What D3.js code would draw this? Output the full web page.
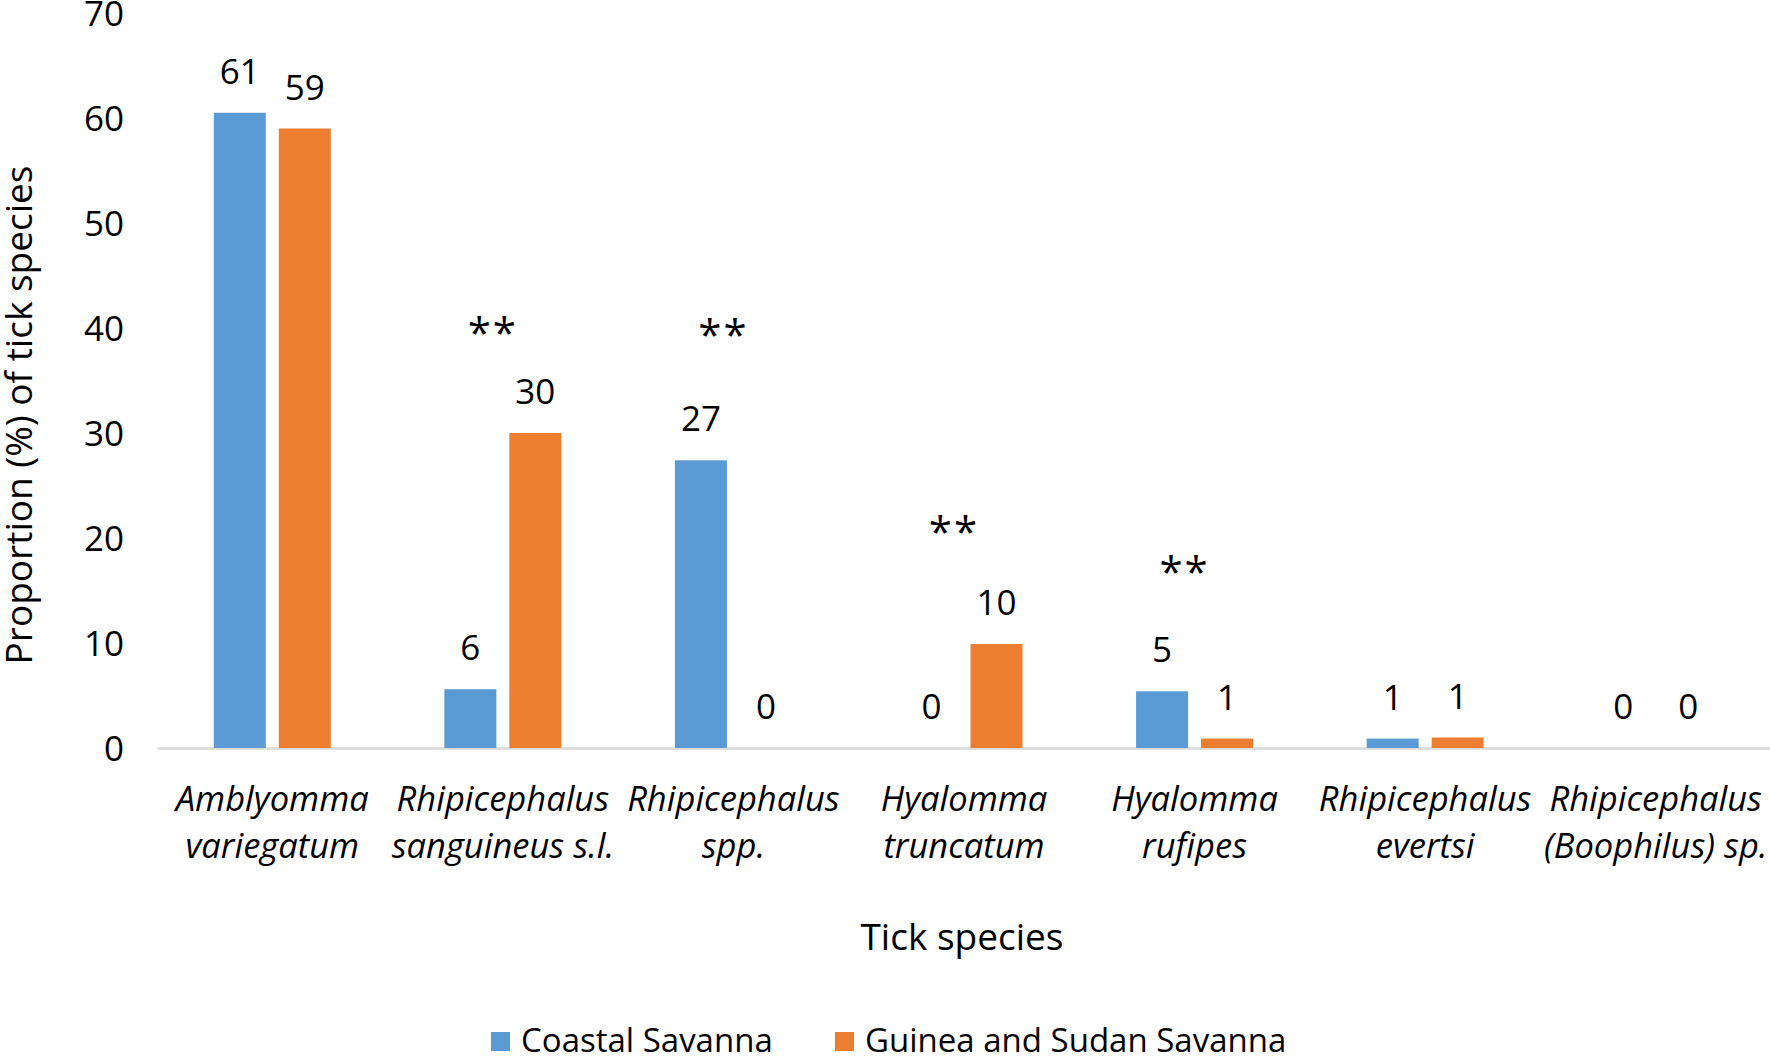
<!DOCTYPE html>
<html><head><meta charset="utf-8">
<script src="https://cdn.jsdelivr.net/npm/d3@7"></script>
<style>
html,body{margin:0;padding:0;background:#fff;}
text{font-family:"Open Sans","Noto Sans",sans-serif;fill:#000;}
</style></head>
<body>
<svg id="chart" width="1770" height="1058"></svg>
<script>
// ---- data ----
const categoryLine1 = ["Amblyomma","Rhipicephalus","Rhipicephalus","Hyalomma","Hyalomma","Rhipicephalus","Rhipicephalus"];
const categoryLine2 = ["variegatum","sanguineus s.l.","spp.","truncatum","rufipes","evertsi","(Boophilus) sp."];
const seriesNames = ["Coastal Savanna","Guinea and Sudan Savanna"];
const coastal = [60.5, 5.6, 27.4, 0, 5.4, 0.9, 0];
const guineaSudan = [59.0, 30.0, 0, 9.9, 0.9, 1.0, 0];
const significance = ["", "**", "**", "**", "**", "", ""];
const significanceLevel = [null, 40.2, 40.0, 21.2, 17.4, null, null];
const yTicks = [0,10,20,30,40,50,60,70];
const colors = ["#5b9bd5","#ed7d31"];

// ---- layout ----
const svg = d3.select("#chart");
const plotLeft = 157, plotRight = 1771, yBottom = 748, yTop = 13;
const fsNum = 35, fsCat = 34.5, fsTitle = 37, fsLeg = 33;

const x = d3.scaleBand().domain(d3.range(categoryLine1.length)).range([plotLeft, plotRight]).paddingInner(0).paddingOuter(0);
const y = d3.scaleLinear().domain([0,70]).range([yBottom, yTop]);

const barW = 52, barGap = 13;
const sub = d3.scaleOrdinal().domain([0,1]).range([-(barGap/2 + barW), barGap/2]);

// y axis labels (no line)
const yAxis = d3.axisLeft(y).tickValues(yTicks).tickSize(0).tickPadding(0).tickFormat(d3.format("d"));
const yg = svg.append("g").attr("transform","translate(124,0)").call(yAxis);
yg.select(".domain").remove();
yg.selectAll("text").attr("font-size",fsNum).attr("font-family","Open Sans").attr("fill","#000").attr("dy","0.36em");

// x axis line
const xAxis = d3.axisBottom(x).tickSize(0).tickFormat("");
const xg = svg.append("g").attr("transform",`translate(0,${yBottom})`).call(xAxis);
xg.select(".domain").attr("stroke","#d9d9d9").attr("stroke-width",2.5);

// bars
const series = [coastal, guineaSudan];
series.forEach((vals, s) => {
  const g = svg.append("g");
  g.selectAll("rect").data(vals).enter().append("rect")
    .attr("x",(d,i)=> x(i) + x.bandwidth()/2 + sub(s))
    .attr("width",barW)
    .attr("y",d=> y(d))
    .attr("height",d=> yBottom - y(d))
    .attr("fill",colors[s]);
  g.selectAll("text").data(vals).enter().append("text")
    .attr("x",(d,i)=> x(i) + x.bandwidth()/2 + sub(s) + barW/2)
    .attr("y",d=> y(d) - 29)
    .attr("text-anchor","middle")
    .attr("font-size",fsNum)
    .text(d=> d3.format(".0f")(d));
});

// significance stars
significance.forEach((s,i)=>{
  if(!s) return;
  svg.append("text")
    .attr("x", x(i) + x.bandwidth()/2 - 10)
    .attr("y", y(significanceLevel[i]) + 22)
    .attr("text-anchor","middle")
    .attr("font-size",42)
    .attr("letter-spacing","2px")
    .text(s);
});

// category labels
const cg = svg.append("g");
categoryLine1.forEach((c,i)=>{
  const t = cg.append("text")
    .attr("x", x(i) + x.bandwidth()/2)
    .attr("text-anchor","middle")
    .attr("font-size",fsCat)
    .attr("font-style","italic");
  t.append("tspan").attr("x", x(i) + x.bandwidth()/2).attr("y",811).text(c);
  t.append("tspan").attr("x", x(i) + x.bandwidth()/2).attr("y",858).text(categoryLine2[i]);
});

// axis titles
svg.append("text").attr("x",(plotLeft+plotRight)/2 - 2).attr("y",950)
  .attr("text-anchor","middle").attr("font-size",fsTitle).text("Tick species");
svg.append("text").attr("transform","translate(32,415) rotate(-90)")
  .attr("text-anchor","middle").attr("font-size",fsTitle).text("Proportion (%) of tick species");

// legend
const legX = [491, 835];
seriesNames.forEach((n,s)=>{
  svg.append("rect").attr("x",legX[s]).attr("y",1032).attr("width",19).attr("height",19).attr("fill",colors[s]);
  svg.append("text").attr("x",legX[s]+30).attr("y",1052).attr("font-size",fsLeg).text(n);
});
</script>
</body></html>
